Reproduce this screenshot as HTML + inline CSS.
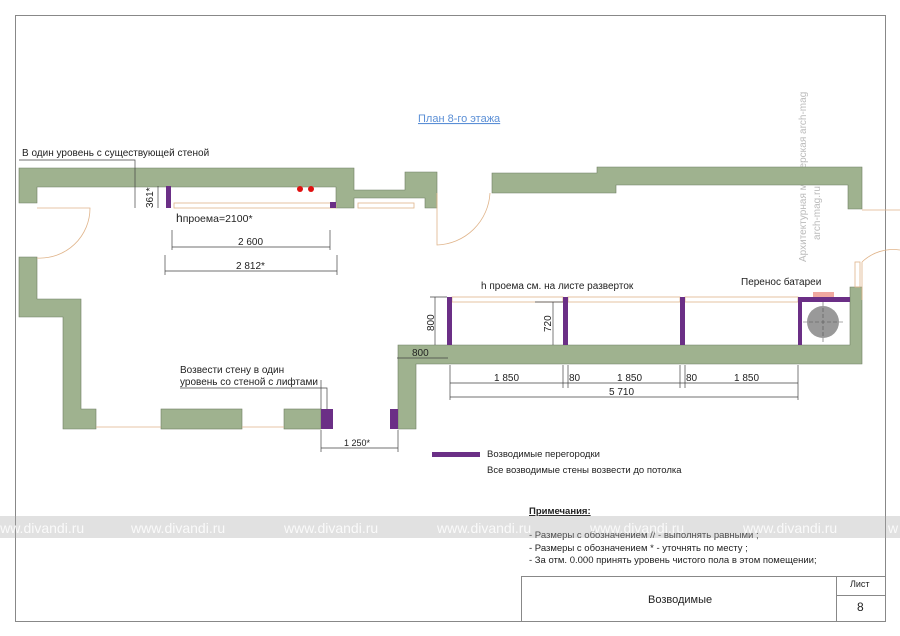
<!DOCTYPE html>
<html><head><meta charset="utf-8"><style>
html,body{margin:0;padding:0;background:#fff;}
svg{display:block;font-family:"Liberation Sans",sans-serif;}
</style></head><body>
<svg width="900" height="636" viewBox="0 0 900 636" xmlns="http://www.w3.org/2000/svg">
<rect width="900" height="636" fill="#fff"/>
<!-- frame -->
<path d="M15.5 15.5 V621.5 H885.5 V15.5 Z" fill="none" stroke="#888" stroke-width="1"/>
<!-- title -->
<text x="418" y="122" font-size="11" fill="#5b8fd6" text-decoration="underline">План 8-го этажа</text>
<!-- vertical watermark -->
<g fill="#bbb" font-size="10">
<text transform="translate(806,262) rotate(-90)">Архитектурная мастерская arch-mag</text>
<text transform="translate(820,240) rotate(-90)">arch-mag.ru</text>
</g>
<!-- walls -->
<g fill="#9fb28f" stroke="#6f7f62" stroke-width="0.6">
<path d="M19 168 H354 V190 H405 V172 H437 V208 H425 V198 H354 V208 H336 V187 H37 V203 H19 Z"/>
<path d="M19 257 H37 V299 H81 V409 H96 V429 H63 V317 H19 Z"/>
<rect x="161" y="409" width="81" height="20"/>
<rect x="284" y="409" width="37" height="20"/>
<path d="M398 345 H850 V287 H862 V364 H416 V429 H398 Z"/>
<path d="M492 173 H597 V167 H862 V209 H848 V185 H616 V193 H492 Z"/>
</g>
<!-- window/door thin lines -->
<g fill="none" stroke="#e0b48a" stroke-width="0.8">
<rect x="174" y="203" width="162" height="5"/>
<rect x="358" y="203" width="56" height="5"/>
<path d="M37 208 H90 A50 50 0 0 1 37 258"/>
<path d="M437 193 V245 A55 55 0 0 0 490 193"/>
<path d="M96 427 H161 M242 427 H284 M862 210 H900 M862 262 V300 M862 262 A45 45 0 0 1 900 250"/>
<rect x="452" y="297" width="111" height="5"/>
<rect x="568" y="297" width="112" height="5"/>
<rect x="685" y="297" width="113" height="5"/>
<rect x="855" y="262" width="5" height="25"/>
</g>
<!-- purple partitions -->
<g fill="#6b2f86">
<rect x="166" y="186" width="5" height="22"/>
<rect x="330" y="202" width="6" height="6"/>
<rect x="321" y="409" width="12" height="20"/>
<rect x="390" y="409" width="8" height="20"/>
<rect x="447" y="297" width="5" height="48"/>
<rect x="563" y="297" width="5" height="48"/>
<rect x="680" y="297" width="5" height="48"/>
<rect x="798" y="297" width="4" height="48"/>
<rect x="802" y="297" width="48" height="5"/>
</g>
<rect x="813" y="292" width="21" height="5" fill="#f0a8a0"/>
<circle cx="823" cy="322" r="16" fill="#999"/>
<path d="M803 322 H843 M823 302 V342" stroke="#555" stroke-width="0.6" stroke-dasharray="4 2"/>
<circle cx="300" cy="189" r="3" fill="#e01010"/>
<circle cx="311" cy="189" r="3" fill="#e01010"/>
<!-- dimensions -->
<g stroke="#444" stroke-width="0.7" fill="none">
<path d="M19 160 H135 V208 M158 186 V208 M172 247 H330 M172 230 V250 M330 230 V250 M165 271 H337 M165 255 V275 M337 255 V275"/>
<path d="M435 297 V345 M430 297 H447 M553 302 V345 M535 302 H563 M397 358 H448"/>
<path d="M450 383 H798 M450 397 H798 M450 365 V400 M563 365 V388 M568 365 V388 M680 365 V388 M685 365 V388 M798 365 V400"/>
<path d="M321 448 H398 M321 430 V452 M398 430 V452 M321 380 V409 M180 388 H327 V409"/>
</g>
<g font-size="10" fill="#222">
<text x="22" y="156">В один уровень с  существующей стеной</text>
<text transform="translate(153,208) rotate(-90)">361*</text>
<text x="176" y="222" font-size="10.5"><tspan font-size="12">h</tspan>проема=2100*</text>
<text x="238" y="245">2 600</text>
<text x="236" y="269">2 812*</text>
<text x="481" y="289">h проема см. на листе разверток</text>
<text x="741" y="285">Перенос батареи</text>
<text transform="translate(434,331) rotate(-90)">800</text>
<text transform="translate(551,332) rotate(-90)">720</text>
<text x="412" y="356">800</text>
<text x="494" y="381">1 850</text>
<text x="569" y="381">80</text>
<text x="617" y="381">1 850</text>
<text x="686" y="381">80</text>
<text x="734" y="381">1 850</text>
<text x="609" y="395">5 710</text>
<text x="180" y="373">Возвести стену в один</text>
<text x="180" y="385">уровень со стеной с лифтами</text>
<text x="344" y="446" font-size="9">1 250*</text>
</g>
<!-- legend -->
<rect x="432" y="452" width="48" height="5" fill="#6b2f86"/>
<g font-size="9.5" fill="#222">
<text x="487" y="457">Возводимые перегородки</text>
<text x="487" y="473">Все возводимые стены возвести до потолка</text>
<text x="529" y="514" font-weight="bold" text-decoration="underline">Примечания:</text>
<text x="529" y="538">- Размеры с обозначением   //  - выполнять равными ;</text>
<text x="529" y="551">- Размеры с обозначением * - уточнять по месту ;</text>
<text x="529" y="563">- За отм. 0.000 принять уровень чистого пола в этом помещении;</text>
</g>
<!-- watermark band -->
<rect x="0" y="516" width="900" height="22" fill="#aaa" opacity="0.35"/>
<g font-size="14" fill="#fff" opacity="0.85">
<text x="-10" y="533">www.divandi.ru</text>
<text x="131" y="533">www.divandi.ru</text>
<text x="284" y="533">www.divandi.ru</text>
<text x="437" y="533">www.divandi.ru</text>
<text x="590" y="533">www.divandi.ru</text>
<text x="743" y="533">www.divandi.ru</text>
<text x="888" y="533">w</text>
</g>
<!-- title block -->
<g stroke="#888" stroke-width="1" fill="none">
<path d="M521.5 621 V576.5 H885 M836.5 576.5 V621 M836.5 595.5 H885"/>
</g>
<g fill="#222">
<text x="648" y="603" font-size="11">Возводимые</text>
<text x="850" y="587" font-size="9">Лист</text>
<text x="857" y="611" font-size="12">8</text>
</g>
</svg>
</body></html>
